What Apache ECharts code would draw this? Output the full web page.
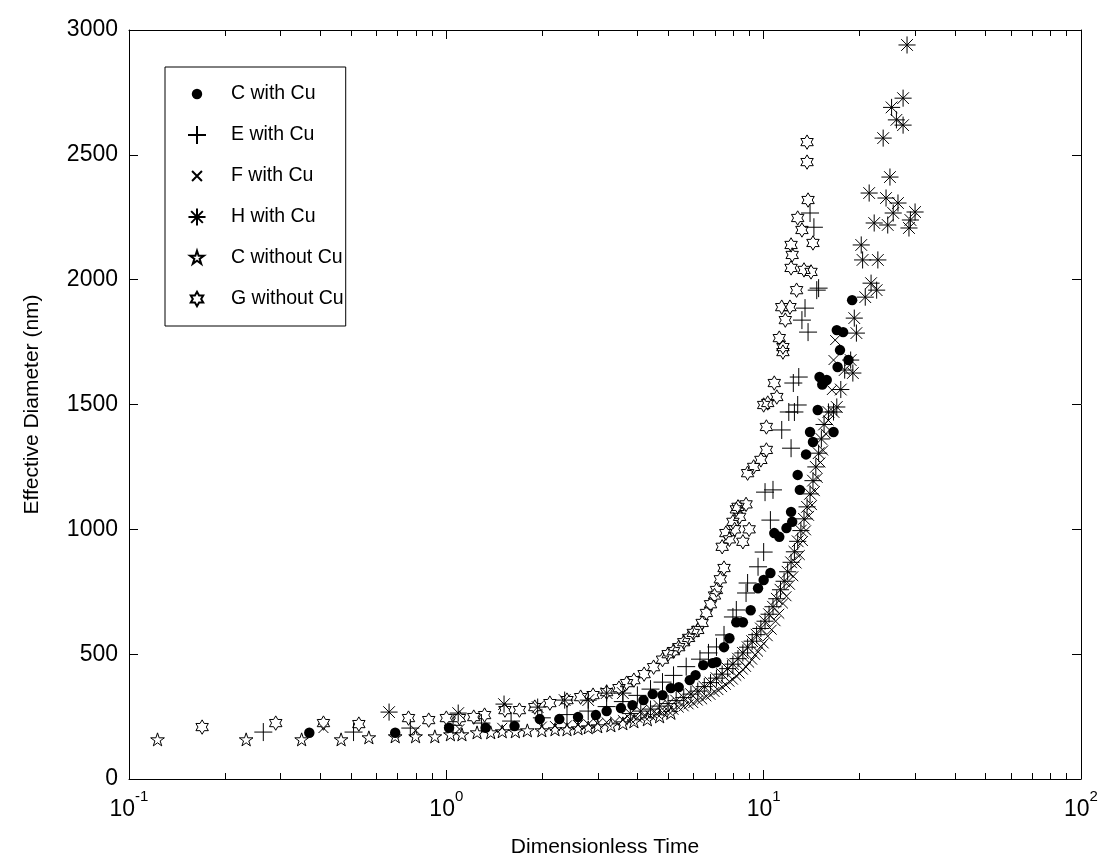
<!DOCTYPE html>
<html><head><meta charset="utf-8">
<script src="https://cdn.jsdelivr.net/npm/echarts@6/dist/echarts.min.js"></script>
<style>html,body{margin:0;padding:0;background:#fff}#c{width:1105px;height:863px}</style>
</head><body><div id="c"></div>
<script>
// ---- data (x: dimensionless time, y: effective diameter nm) ----
const seriesNames = ['C with Cu', 'E with Cu', 'F with Cu', 'H with Cu', 'C without Cu', 'G without Cu'];

const cWithCu = [[0.37,185],[0.69,185],[1.02,205],[1.33,205],[1.64,212],[1.97,240],[2.27,240],[2.6,248],[2.96,256],[3.2,272],[3.55,284],[3.86,296],[4.18,316],[4.47,340],[4.8,336],[5.1,364],[5.4,368],[5.85,396],[6.1,416],[6.45,456],[6.9,464],[7.1,468],[7.5,528],[7.8,564],[8.2,628],[8.6,628],[9.1,676],[9.6,764],[10,797],[10.5,825],[10.8,985],[11.2,970],[11.8,1005],[12.3,1030],[12.2,1070],[12.8,1218],[13,1158],[13.6,1300],[14.0,1390],[14.3,1350],[14.8,1478],[15,1610],[15.8,1598],[15.3,1580],[16.6,1390],[17.1,1650],[17.4,1718],[17,1798],[17.8,1790],[18.5,1678],[19,1918]];

const eWithCu = [[0.265,188],[0.51,188],[0.77,204],[1.05,215],[1.29,224],[1.6,232],[2.0,245],[2.4,258],[2.8,272],[3.2,290],[3.6,310],[4.0,335],[4.4,360],[4.8,388],[5.2,415],[5.7,450],[6.3,480],[6.7,505],[7.1,529],[7.5,577],[8.0,649],[8.2,677],[8.8,745],[8.9,785],[9.6,850],[10,909],[10.1,1149],[10.5,1037],[10.7,1158],[11.4,1398],[12,1470],[12.5,1470],[12.2,1325],[12.8,1498],[12.4,1586],[12.9,1610],[13.8,1790],[13.2,1838],[13.5,1886],[14.9,1966],[14.7,1958],[14,2267],[14.4,2210]];

const fWithCu = [[0.41,204],[0.8,195],[1.1,200],[1.5,205],[2.0,210],[2.2,212],[2.4,215],[2.6,216],[2.8,220],[3.0,222],[3.2,227],[3.4,230],[3.6,236],[3.8,239],[4.0,245],[4.2,251],[4.4,254],[4.6,262],[4.8,266],[5.0,273],[5.2,277],[5.4,286],[5.6,291],[5.8,299],[6.0,304],[6.2,314],[6.4,319],[6.6,331],[6.8,337],[7.0,349],[7.2,356],[7.4,368],[7.6,377],[7.8,390],[8.0,398],[8.2,413],[8.4,422],[8.6,438],[8.8,449],[9.0,466],[9.2,478],[9.4,497],[9.6,510],[9.8,530],[10,543],[10.3,572],[10.6,598],[10.9,632],[11.2,662],[11.5,703],[11.8,732],[12.1,778],[12.4,812],[12.7,863],[13,897],[13.3,953],[13.6,996],[13.9,1054],[14.2,1097],[14.5,1153],[14.8,1206],[15.1,1268],[15.4,1316],[15.7,1383],[16,1436],[16.4,1558],[16.6,1678],[16.8,1758]];

const hWithCu = [[0.66,268],[1.09,264],[1.52,300],[1.94,288],[2.36,316],[2.8,316],[3.2,344],[3.6,344],[3.8,262],[4.1,272],[4.4,280],[4.7,292],[5.0,302],[5.3,314],[5.6,326],[5.9,340],[6.2,352],[6.5,370],[6.8,386],[7.1,404],[7.4,420],[7.7,442],[8.0,460],[8.3,482],[8.6,505],[8.9,528],[9.2,552],[9.5,578],[9.8,603],[10.1,632],[10.4,660],[10.7,690],[11,722],[11.3,758],[11.6,792],[11.9,830],[12.2,868],[12.5,910],[12.8,952],[13.1,995],[13.4,1042],[13.7,1090],[14,1142],[14.3,1195],[14.6,1250],[14.9,1305],[15.2,1362],[15.5,1420],[16,1470],[16.6,1470],[17,1490],[17.5,1560],[18,1638],[18.8,1678],[19.1,1626],[19.6,1786],[19.3,1846],[20.9,1930],[22.7,1958],[21.8,1986],[20.5,2079],[22.9,2079],[20.3,2139],[22.3,2227],[24.6,2219],[28.7,2207],[29,2239],[25.6,2267],[30,2271],[26.5,2307],[24.3,2327],[21.5,2347],[25,2411],[23.8,2567],[27.5,2619],[26.2,2640],[25.3,2690],[27.5,2727],[28.3,2940]];

const cWithoutCu = [[0.123,156],[0.234,156],[0.35,156],[0.466,156],[0.57,164],[0.69,168],[0.8,168],[0.92,168],[1.03,176],[1.12,176],[1.25,184],[1.38,184],[1.5,188],[1.65,188],[1.8,192],[2.0,192],[2.2,196],[2.4,196],[2.6,200],[2.8,204],[3.0,208],[3.3,212],[3.6,220],[3.9,228],[4.3,236],[4.7,248],[5.1,262]];

const gWithoutCu = [[0.17,208],[0.29,224],[0.41,224],[0.53,220],[0.76,244],[0.88,236],[1.0,244],[1.1,244],[1.22,248],[1.32,256],[1.53,276],[1.7,276],[1.9,288],[2.12,304],[2.4,316],[2.65,328],[2.9,336],[3.2,348],[3.5,364],[3.7,384],[3.9,396],[4.2,420],[4.5,448],[4.8,478],[5.0,500],[5.2,512],[5.4,528],[5.6,548],[5.8,565],[6.0,585],[6.2,597],[6.4,625],[6.6,665],[6.8,700],[7.0,735],[7.1,757],[7.3,800],[7.5,845],[7.4,930],[7.6,985],[7.8,960],[8.0,1030],[8.1,1000],[8.3,1090],[8.4,1050],[8.8,1100],[8.2,1080],[9.0,1000],[8.6,950],[8.9,1225],[9.3,1250],[9.8,1278],[10.2,1318],[10.2,1410],[10,1498],[10.3,1506],[11,1530],[10.8,1586],[11.5,1710],[11.2,1766],[11.5,1730],[11.7,1838],[11.4,1890],[12.1,1890],[12.7,1958],[12.2,2047],[13.4,2039],[14.1,2031],[12.3,2099],[13.2,2199],[12.2,2139],[14.3,2147],[12.8,2247],[13.8,2319],[13.7,2471],[13.7,2551]];

const xMinorTicks = [0.2,0.3,0.4,0.5,0.6,0.7,0.8,0.9,2,3,4,5,6,7,8,9,20,30,40,50,60,70,80,90];
const yTickInterval = 500;

// ---- marker shapes (all drawn in a [-1,1] box so one symbol size fits all) ----
const PAD = 'M-1,-1 M1,1 ';
const sym = {
  circle: 'path://' + PAD + 'M-0.58,0 A0.58,0.58 0 1,1 0.58,0 A0.58,0.58 0 1,1 -0.58,0 Z',
  plus: 'path://' + PAD + 'M0,-1 L0,1 M-1,0 L1,0',
  cross: 'path://' + PAD + 'M-0.55,-0.55 L0.55,0.55 M-0.55,0.55 L0.55,-0.55',
  aster: 'path://' + PAD + 'M0,-0.95 L0,0.95 M-0.95,0 L0.95,0 M-0.65,-0.65 L0.65,0.65 M-0.65,0.65 L0.65,-0.65',
  penta: 'path://' + PAD + 'M0,-0.8 L0.18,-0.248 L0.761,-0.247 L0.291,0.095 L0.47,0.647 L0,0.306 L-0.47,0.647 L-0.291,0.095 L-0.761,-0.247 L-0.18,-0.248 Z',
  hexa: 'path://' + PAD + 'M0,-0.8 L0.231,-0.4 L0.693,-0.4 L0.462,0 L0.693,0.4 L0.231,0.4 L0,0.8 L-0.231,0.4 L-0.693,0.4 L-0.462,0 L-0.693,-0.4 L-0.231,-0.4 Z'
};
const FONT = 'Liberation Sans, Arial, sans-serif';
const SIZE = 18;
const strokeStyle = {color: 'rgba(0,0,0,0)', borderColor: '#000', borderWidth: 1, opacity: 1};
const fillStyle = {color: '#000', borderColor: '#000', borderWidth: 0, opacity: 1};

function scatter(name, data, symbol, style) {
  return {name, type: 'scatter', data, symbol, symbolSize: SIZE, symbolKeepAspect: true,
    itemStyle: style, emphasis: {disabled: true}, silent: true, z: 3};
}

const chart = echarts.init(document.getElementById('c'), null, {renderer: 'canvas'});
const axisCommon = {
  axisLine: {show: true, onZero: false, lineStyle: {color: '#000', width: 1}},
  axisTick: {show: true, inside: true, length: 9, lineStyle: {color: '#000', width: 1}},
  splitLine: {show: false}
};
chart.setOption({
  animation: false,
  backgroundColor: '#fff',
  grid: {left: 129, top: 30, right: 24, bottom: 84},
  legend: {
    orient: 'vertical', left: 165, top: 67,
    padding: [17, 2, 17, 22], itemWidth: 58, itemHeight: 18, itemGap: 21,
    borderColor: '#000', borderWidth: 1, backgroundColor: '#fff',
    selectedMode: false,
    textStyle: {fontSize: 19.5, color: '#000', fontFamily: FONT, lineHeight: 16},
    data: seriesNames
  },
  xAxis: [
    Object.assign({type: 'log', logBase: 10, min: 0.1, max: 100, position: 'bottom',
      name: 'Dimensionless Time', nameLocation: 'middle', nameGap: 58,
      nameTextStyle: {fontSize: 21, color: '#000', fontFamily: FONT},
      axisLabel: {margin: 10, color: '#000',
        formatter: v => '{b|10}{s|' + Math.round(Math.log10(v)) + '}',
        rich: {b: {fontSize: 23, fontFamily: FONT, color: '#000', lineHeight: 32, verticalAlign: 'bottom'},
               s: {fontSize: 15, fontFamily: FONT, color: '#000', lineHeight: 32, verticalAlign: 'top'}}}
    }, axisCommon),
    Object.assign({type: 'log', logBase: 10, min: 0.1, max: 100, position: 'top', axisLabel: {show: false}}, axisCommon)
  ],
  yAxis: [
    Object.assign({type: 'value', min: 0, max: 3000, interval: yTickInterval, position: 'left',
      name: 'Effective Diameter (nm)', nameLocation: 'middle', nameGap: 86,
      nameTextStyle: {fontSize: 21, color: '#000', fontFamily: FONT},
      axisLabel: {margin: 11, fontSize: 23, color: '#000', fontFamily: FONT, formatter: v => String(v)}
    }, axisCommon),
    Object.assign({type: 'value', min: 0, max: 3000, interval: yTickInterval, position: 'right', axisLabel: {show: false}}, axisCommon)
  ],
  series: [
    scatter(seriesNames[0], cWithCu, sym.circle, fillStyle),
    scatter(seriesNames[1], eWithCu, sym.plus, strokeStyle),
    scatter(seriesNames[2], fWithCu, sym.cross, strokeStyle),
    scatter(seriesNames[3], hWithCu, sym.aster, strokeStyle),
    scatter(seriesNames[4], cWithoutCu, sym.penta, strokeStyle),
    scatter(seriesNames[5], gWithoutCu, sym.hexa, strokeStyle),
    {
      name: 'minorTicks', type: 'custom', silent: true, z: 5,
      data: xMinorTicks.map(v => [v, 0]),
      renderItem: function (params, api) {
        const cs = params.coordSys;
        const x = Math.round(api.coord([api.value(0), 0])[0]) + 0.5;
        const b = cs.y + cs.height, t = cs.y, len = 6;
        return {type: 'group', children: [
          {type: 'line', shape: {x1: x, y1: b, x2: x, y2: b - len}, style: {stroke: '#000', lineWidth: 1}},
          {type: 'line', shape: {x1: x, y1: t, x2: x, y2: t + len}, style: {stroke: '#000', lineWidth: 1}}
        ]};
      }
    }
  ]
});
</script>
</body></html>
